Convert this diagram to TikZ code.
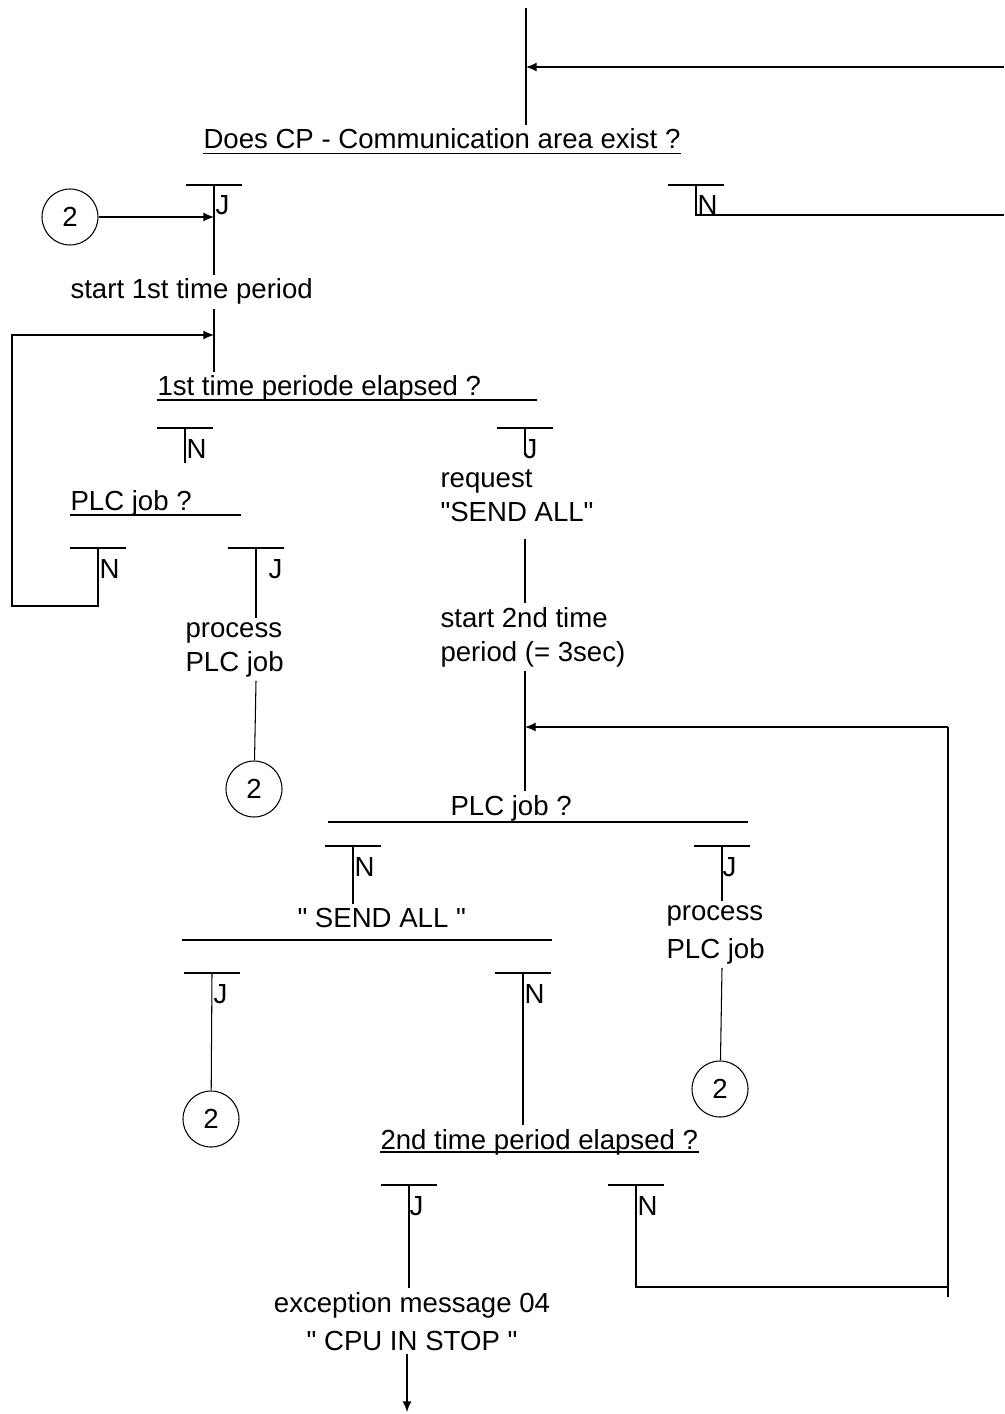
\documentclass[tikz,border=0pt]{standalone}
\usepackage{fontspec}
\setmainfont{Liberation Sans}[Ligatures=TeXOff]
\usetikzlibrary{arrows.meta}

\tikzset{
  txt/.style={font=\fontsize{15.7}{19.3}\selectfont, inner xsep=0pt, inner ysep=2pt, anchor=base west},
  wide/.style={font=\fontsize{15.7}{21.6}\selectfont},
  lbl/.style={txt},
  conn/.style={circle, draw, minimum size=1.12cm, inner sep=0pt, font=\fontsize{15.7}{19.3}\selectfont},
  arr/.style={-{Latex[length=6pt,width=5pt]}}
}
% T-bar: name, x, y, label, label offset
\newcommand\jnbar[5]{%
  \coordinate (#1) at (#2,#3);
  \draw (#2-28,#3) -- (#2+28,#3);
  \node[lbl] (#1t) at (#2+#5,#3+30) {#4};
}

\begin{document}
\begin{tikzpicture}[x=0.2mm, y=-0.2mm, line width=0.6pt]
  \useasboundingbox (0,0) rectangle (1004,1414);
  % CP area
  \coordinate (top) at (526,8);
  \coordinate (back) at (1004,67);
  \coordinate (out) at (1004,215);
  \node[txt] (q1) at (203,149) {Does CP - Communication area exist ?};
  \draw ([yshift=-2.3pt]q1.base west) -- ([yshift=-2.3pt]q1.base east);
  \draw (top) -- (top |- q1.north);
  \draw[arr] (back) -- (back -| top);
  \jnbar{j1}{214}{185}{J}{1}
  \jnbar{n1}{696}{185}{N}{1}
  \draw (n1) |- (out);
  \node[conn] (c1) at (70,217) {2};
  \draw[arr] (c1) -- (c1 -| j1);
  % 1st time period
  \node[txt] (s1) at (70,299) {start 1st time period};
  \draw (j1) -- (j1 |- s1.north);
  \node[txt] (q2) at (157,396) {1st time periode elapsed ?};
  \draw (157,400) -- (537,400);
  \draw (s1.south -| j1) -- (j1 |- q2.north);
  \coordinate (lp) at (12,606);
  \coordinate (loopin) at (214,335);
  \jnbar{n2}{185}{428}{N}{1}
  \jnbar{j2}{525}{428}{J}{-2}
  \draw (n2) -- ++(0,35);
  \draw (j2) -- ++(0,27);
  % PLC job (1)
  \node[txt] (q3) at (70,510) {PLC job ?};
  \draw (70,515) -- (241,515);
  \jnbar{n3}{98}{548}{N}{1}
  \jnbar{j3}{256}{548}{J}{12}
  \draw[arr] (n3) |- (lp) |- (loopin);
  \node[txt, align=left] (p1) at (185,671) {process\\PLC job};
  \draw (j3) -- (j3 |- p1.north);
  \node[conn] (c2) at (254,789) {2};
  \draw (p1.south -| j3) -- (c2);
  % SEND ALL, 2nd time period
  \node[txt, align=left] (r1) at (440,521) {request\\"SEND ALL"};
  \node[txt, align=left] (t2) at (440,661) {start 2nd time\\period (= 3sec)};
  \draw ([yshift=-8pt]r1.south -| j2) -- (t2.north -| j2);
  \node[txt] (q4) at (450,815) {PLC job ?};
  \draw (328,822) -- (748,822);
  \draw (t2.south -| j2) -- (q4.north -| j2);
  \coordinate (ret2) at (948,727);
  \coordinate (rb) at (948,1297);
  \draw[arr] (ret2) -- (ret2 -| j2);
  \jnbar{n4}{353}{846}{N}{1}
  \jnbar{j4}{722}{846}{J}{0}
  \node[txt, wide, align=left] (p2) at (666,958) {process\\PLC job};
  \draw (j4) -- (j4 |- p2.north);
  \node[conn] (c3) at (720,1089) {2};
  \draw (p2.south -| j4) -- (c3);
  \node[txt] (q5) at (297,927) {" SEND ALL "};
  \draw (182,940) -- (552,940);
  \draw (n4) -- (n4 |- q5.north);
  \jnbar{j5}{212}{973}{J}{1}
  \jnbar{n5}{523}{973}{N}{1}
  \node[conn] (c4) at (211,1119) {2};
  \draw (j5) -- (c4);
  % 2nd time period elapsed
  \node[txt] (q6) at (380,1149) {2nd time period elapsed ?};
  \draw ([yshift=-1.7pt]q6.base west) -- ([yshift=-1.7pt]q6.base east);
  \draw (n5) -- (n5 |- q6.north);
  \jnbar{j6}{409}{1185}{J}{0}
  \jnbar{n6}{636}{1185}{N}{1}
  \draw (n6) |- (rb |- 0,1287);
  \draw (rb) -- (ret2);
  \node[txt, wide, align=center, anchor=base] (ex) at (412,1350) {exception message 04\\" CPU IN STOP "};
  \draw (j6) -- (j6 |- ex.north);
  \coordinate (end) at (407,1412);
  \draw[arr] (ex.south -| end) -- (end);
\end{tikzpicture}
\end{document}
